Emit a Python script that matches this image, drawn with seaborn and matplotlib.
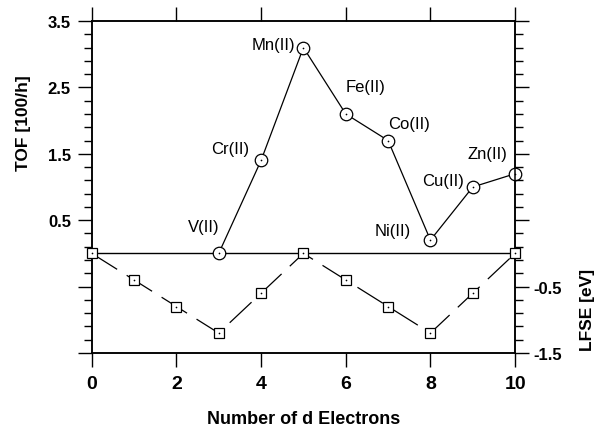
import matplotlib
matplotlib.use("Agg")
import matplotlib.pyplot as plt
import seaborn as sns
import numpy as np
import pandas as pd
from matplotlib.ticker import FixedLocator, MultipleLocator, FuncFormatter

# ---- data ----
tof_d = [3, 4, 5, 6, 7, 8, 9, 10]
tof_values = [0.0, 1.4, 3.1, 2.1, 1.7, 0.2, 1.0, 1.2]
ion_labels = ["V(II)", "Cr(II)", "Mn(II)", "Fe(II)", "Co(II)", "Ni(II)", "Cu(II)", "Zn(II)"]
label_x = [2.64, 3.27, 4.29, 6.46, 7.50, 7.12, 8.30, 9.34]
label_y = [0.40, 1.58, 3.14, 2.51, 1.96, 0.35, 1.10, 1.51]

lfse_d = [0, 1, 2, 3, 4, 5, 6, 7, 8, 9, 10]
lfse_values = [0.0, -0.4, -0.8, -1.2, -0.6, 0.0, -0.4, -0.8, -1.2, -0.6, 0.0]

x_ticks = [0, 2, 4, 6, 8, 10]
left_tick_labels = [0.5, 1.5, 2.5, 3.5]
right_tick_labels = [-0.5, -1.5]

sns.set_style("ticks")
plt.rcParams["font.family"] = ["Liberation Sans", "DejaVu Sans"]
for k in ["text.color", "axes.labelcolor", "xtick.color", "ytick.color", "axes.edgecolor"]:
    plt.rcParams[k] = "black"

fig = plt.figure(figsize=(6.01, 4.27), dpi=100)
ax = fig.add_axes([0.1526, 0.171, 0.7045, 0.7775])
ax2 = ax.twinx()
ax.set_position([0.1526, 0.171, 0.7045, 0.7775])
ax2.set_position([0.1526, 0.171, 0.7045, 0.7775])

tof_df = pd.DataFrame({"d": tof_d, "tof": tof_values})
lfse_df = pd.DataFrame({"d": lfse_d, "lfse": lfse_values})

# zero line
ax.axhline(0, color="black", lw=1.0, zorder=2)

# TOF curve
sns.lineplot(data=tof_df, x="d", y="tof", ax=ax, color="black", lw=0.9,
             marker="o", markersize=9, markerfacecolor="white",
             markeredgecolor="black", markeredgewidth=0.9, clip_on=False, zorder=3)
sns.scatterplot(data=tof_df, x="d", y="tof", ax=ax, color="black", s=1.5,
                marker="o", linewidth=0, zorder=4, clip_on=False)

# LFSE curve
sns.lineplot(data=lfse_df, x="d", y="lfse", ax=ax2, color="black", lw=0.9,
             marker="s", markersize=7.5, markerfacecolor="white",
             markeredgecolor="black", markeredgewidth=0.9, clip_on=False, zorder=3)
ax2.lines[-1].set_linestyle((0, (24, 9)))
sns.scatterplot(data=lfse_df, x="d", y="lfse", ax=ax2, color="black", s=1.5,
                marker="o", linewidth=0, zorder=4, clip_on=False)

for lab, lx, ly in zip(ion_labels, label_x, label_y):
    ax.text(lx, ly, lab, ha="center", va="center", fontsize=12,
            color="black", zorder=5)

for a in (ax, ax2):
    a.set_xlim(0, 10)
    a.set_ylim(-1.5, 3.5)
    for s in a.spines.values():
        s.set_visible(True)
        s.set_linewidth(1.1)
        s.set_color("black")

ax.xaxis.set_major_locator(FixedLocator(x_ticks))
ax.yaxis.set_major_locator(MultipleLocator(1.0, offset=0.5))
ax.yaxis.set_minor_locator(MultipleLocator(0.2, offset=0.1))
ax.yaxis.set_major_formatter(FuncFormatter(lambda v, p: f"{v:.1f}" if any(abs(v - t) < 1e-6 for t in left_tick_labels) else ""))
ax2.yaxis.set_major_locator(MultipleLocator(1.0, offset=0.5))
ax2.yaxis.set_minor_locator(MultipleLocator(0.2, offset=0.1))
ax2.yaxis.set_major_formatter(FuncFormatter(lambda v, p: f"{v:.1f}" if any(abs(v - t) < 1e-6 for t in right_tick_labels) else ""))

ax.tick_params(axis="x", which="major", direction="out", length=10, width=1.0,
               top=True, bottom=True, pad=6, labelsize=14, colors="black")
ax2.tick_params(axis="x", which="both", top=False, bottom=False, labeltop=False, labelbottom=False)
ax.tick_params(axis="y", which="major", direction="out", length=10, width=1.0, pad=5, labelsize=12, colors="black")
ax.tick_params(axis="y", which="minor", direction="out", length=6, width=1.0, colors="black")
ax2.tick_params(axis="y", which="major", direction="out", length=10, width=1.0, pad=3, labelsize=12, colors="black")
ax2.tick_params(axis="y", which="minor", direction="out", length=6, width=1.0, colors="black")

for t in ax.get_xticklabels():
    t.set_fontweight("bold")
for t in ax.get_yticklabels() + ax2.get_yticklabels():
    t.set_fontweight("bold")

ax.set_xlabel("Number of d Electrons", fontsize=13, fontweight="bold")
ax.xaxis.label.set_va("center")
ax.xaxis.set_label_coords(0.50, -0.196)
ax.set_ylabel("TOF [100/h]", fontsize=12.5, fontweight="bold")
ax.yaxis.label.set_va("center")
ax.yaxis.set_label_coords(-0.160, 0.694)
ax2.set_ylabel("LFSE [eV]", fontsize=12.5, fontweight="bold", rotation=90)
ax2.yaxis.label.set_va("center")
ax2.yaxis.set_label_coords(1.170, 0.133)

fig.savefig("out.png", dpi=100)
